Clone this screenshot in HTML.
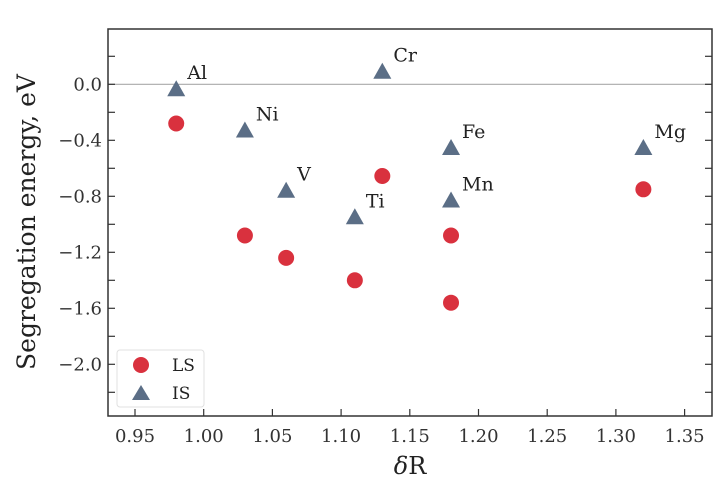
<!DOCTYPE html>
<html><head><meta charset="utf-8"><style>
body{margin:0;background:#fff}
svg{display:block;font-family:"DejaVu Serif","Liberation Serif",serif}
</style></head><body>
<svg id="c" width="719" height="481"></svg>
<script>
const elements=["Al","Ni","V","Ti","Cr","Fe","Mn","Mg"];
const deltaR=[0.98,1.03,1.06,1.11,1.13,1.18,1.18,1.32];
const lsValues=[-0.28,-1.08,-1.24,-1.40,-0.655,-1.08,-1.56,-0.75];
const isValues=[-0.035,-0.33,-0.76,-0.95,0.09,-0.455,-0.83,-0.455];
const xTicks=["0.95","1.00","1.05","1.10","1.15","1.20","1.25","1.30","1.35"];
const yTicks=["0.0","-0.4","-0.8","-1.2","-1.6","-2.0"];
const L=108,R=712,T=29,B=416;
const X=v=>135+(v-0.95)*1374;
const Y=v=>84.3-v*140;
const svg=document.getElementById('c');const NS="http://www.w3.org/2000/svg";
function mk(t,a,p){const e=document.createElementNS(NS,t);for(const k in a)e.setAttribute(k,a[k]);(p||svg).appendChild(e);return e;}
let e;
e=mk('line',{x1:L,x2:R,y1:Y(0),y2:Y(0),stroke:'#aaa','stroke-width':1.2});


xTicks.forEach(t=>{const x=X(+t);
e=mk('line',{x1:x,x2:x,y1:B,y2:B-7,stroke:'#333','stroke-width':1.2});


e=mk('text',{x:x,y:B+26,'text-anchor':'middle','font-size':18,fill:'#333'});e.textContent=t;

});
for(let v=0.2;v>-2.4;v-=0.2){const y=Y(v);if(y<T||y>B)continue;
e=mk('line',{x1:L,x2:L+7,y1:y,y2:y,stroke:'#333','stroke-width':1.2});


e=mk('line',{x1:R,x2:R-7,y1:y,y2:y,stroke:'#333','stroke-width':1.2});

}
yTicks.forEach(t=>{e=mk('text',{x:L-6,y:Y(+t)+6,'text-anchor':'end','font-size':18,fill:'#333'});e.textContent=t.replace('-','\u2212');

});
e=mk('rect',{x:L,y:T,width:R-L,height:B-T,fill:'none',stroke:'#333','stroke-width':1.5});


elements.forEach((n,i)=>{const x=X(deltaR[i]);
e=mk('circle',{cx:x,cy:Y(lsValues[i]),r:8,fill:'#d9313e'});


const y=Y(isValues[i]);
e=mk('polygon',{points:`${x},${y-9} ${x-9},${y+7} ${x+9},${y+7}`,fill:'#5b6e86'});


e=mk('text',{x:x+11,y:y-10,'font-size':19,fill:'#222'});e.textContent=n;

});
const lg=mk('g',{});
mk('rect',{x:117,y:350,width:87,height:57,rx:3,fill:'#fff',stroke:'#e0e0e0'},lg);
mk('circle',{cx:141,cy:365,r:8,fill:'#d9313e'},lg);
let t=mk('text',{x:172,y:371,'font-size':17,fill:'#222'},lg);t.textContent='LS';
mk('polygon',{points:'141,385 132,400 150,400',fill:'#5b6e86'},lg);
t=mk('text',{x:172,y:399,'font-size':17,fill:'#222'},lg);t.textContent='IS';
e=mk('text',{x:410,y:474,'text-anchor':'middle','font-size':24,fill:'#222'});e.innerHTML='<tspan font-style="italic">δ</tspan>R';


e=mk('text',{x:0,y:0,'text-anchor':'middle','font-size':25,fill:'#222',transform:'translate(35,222) rotate(-90)'});e.textContent='Segregation energy, eV';


</script>
</body></html>
